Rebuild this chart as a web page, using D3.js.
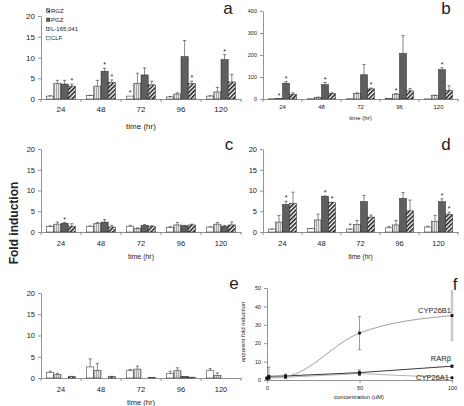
<!DOCTYPE html>
<html><head><meta charset="utf-8">
<script src="https://cdn.jsdelivr.net/npm/d3@7"></script>
<style>
body{margin:0;background:#fff}
svg{display:block}
text{font-family:"Liberation Sans",Arial,sans-serif;fill:#222}
</style>
</head><body>
<svg id="c" width="464" height="406"></svg>
<script>
// ---------- DATA ----------
const times = ["24", "48", "72", "96", "120"];
const seriesNames = ["CLF", "L-165,041", "PGZ", "RGZ"];
const legendOrder = ["RGZ", "PGZ", "L-165,041", "CLF"];

// rows: CLF, L-165,041, PGZ, RGZ ; columns: times
const aValues = [[0.7,0.8,0.7,0.5,0.7],[3.7,3.1,3.8,1.2,1.7],[3.6,6.7,5.8,10.2,9.5],[3.1,4.0,3.4,3.7,4.1]];
const aErrors = [[0.1,0.1,0,0.1,0.1],[0.8,1.4,2.4,0.3,1.1],[0.9,0.7,1.7,3.9,1.2],[0.5,0.6,0.9,0.6,1.8]];
const aStars = [[0,3],[1,2],[1,3],[2,0],[3,3],[4,2]];
const aTicks = [0,5,10,15,20];

const bValues = [[1,1,1,2,0.5],[3,8,25,22,15],[72,65,110,207,133],[22,25,46,37,40]];
const bErrors = [[0,0,0,0,0],[0,1,3,3,3],[8,10,47,81,9],[6,3,4,11,20]];
const bStars = [[0,1],[0,2],[1,2],[2,3],[3,1],[4,2]];
const bTicks = [0,100,200,300,400];

const cValues = [[1.3,1.4,1.4,1.1,1.2],[1.9,2.0,0.8,1.7,1.9],[2.1,2.4,1.6,1.5,1.4],[1.4,1.2,1.4,1.7,1.7]];
const cErrors = [[0.2,0.05,0.2,0.2,0.05],[0.5,0.3,0.2,0.6,0.4],[0.2,0.6,0.2,0.1,0.2],[0.6,0.4,0.1,0.2,0.7]];
const cStars = [[0,2]];

const dValues = [[0.7,0.8,0.7,1.0,1.2],[2.4,2.9,1.8,1.7,2.6],[6.6,8.6,7.3,8.1,7.3],[6.9,7.1,3.6,5.1,4.3]];
const dErrors = [[0.05,0.05,0.05,0.3,0.2],[1.6,1.4,1.0,1.1,1.4],[0.8,0.1,1.5,1.4,0.7],[2.7,0.1,0.5,2.6,0.5]];
const dStars = [[0,2],[1,2],[1,3],[2,0],[4,2],[4,3]];

const eValues = [[1.3,2.6,1.7,1.0,1.7],[0.8,1.8,2.1,1.7,0.6],[0,0,0,0.4,0],[0.3,0.3,0.15,0.2,0]];
const eErrors = [[0.3,1.9,0.3,0.6,0.5],[0.3,1.6,0.7,0.7,0.6],[0,0,0,0,0],[0.1,0.1,0,0,0]];
const eStars = [];

// panel f
const conc = [0, 1, 10, 50, 100];
const cyp26b1 = [1, 1.5, 2, 25.5, 35];
const cyp26b1Err = [0, 5.5, 1.2, 9, 14];
const rarb = [1, 2, 2.2, 4, 7.5];
const rarbErr = [0, 0.5, 0.6, 1.5, 0.6];
const cyp26a1 = [1, 1, 1.5, 3.5, 1.2];
const cyp26a1Err = [0, 0, 0.4, 1, 0];
const fYTicks = [0,10,20,30,40,50];
const fXTicks = [0,50,100];

// ---------- DRAW ----------
const INK = "#222";
const svg = d3.select("#c");
svg.append("rect").attr("width",464).attr("height",406).attr("fill","#fff");
const defs = svg.append("defs");
const pl = defs.append("pattern").attr("id","pL").attr("patternUnits","userSpaceOnUse").attr("width",2).attr("height",2);
pl.append("rect").attr("width",2).attr("height",2).attr("fill","#e4e4e4");
pl.append("rect").attr("width",1).attr("height",2).attr("fill","#a8a8a8");
const ph = defs.append("pattern").attr("id","pH").attr("patternUnits","userSpaceOnUse").attr("width",3).attr("height",3).attr("patternTransform","rotate(45)");
ph.append("rect").attr("width",3).attr("height",3).attr("fill","#fff");
ph.append("rect").attr("width",1.5).attr("height",3).attr("fill","#111");
const fills = {"CLF":"#fff","L-165,041":"url(#pL)","PGZ":"#5f5f5f","RGZ":"url(#pH)"};

function styleAxis(sel, fs){
  sel.selectAll("path.domain").attr("stroke","#777").attr("stroke-width",0.8);
  sel.selectAll(".tick line").attr("stroke","#777").attr("stroke-width",0.8);
  sel.selectAll("text").attr("font-size",fs).attr("fill",INK).style("font-family","'Liberation Sans',Arial,sans-serif");
}

function barPanel(cfg){
  const g = svg.append("g");
  const x = d3.scaleBand().domain(times).range([cfg.x0, cfg.x1]);
  const y = d3.scaleLinear().domain([0, cfg.max]).range([cfg.yb, cfg.yt]);
  const bw = cfg.bw;
  const ya = g.append("g").attr("transform",`translate(${cfg.x0},0)`)
    .call(d3.axisLeft(y).tickValues(cfg.ticks).tickSize(3).tickSizeOuter(0).tickPadding(cfg.ypad));
  styleAxis(ya, cfg.yfs);
  const xa = g.append("g").attr("transform",`translate(0,${cfg.yb})`)
    .call(d3.axisBottom(x).tickSize(0).tickSizeOuter(0).tickPadding(cfg.xpad));
  styleAxis(xa, cfg.xfs);
  const bounds = d3.range(times.length + 1).map(i => cfg.x0 + i * x.step());
  g.selectAll("line.bt").data(bounds).join("line").attr("class","bt")
    .attr("x1",d=>d).attr("x2",d=>d).attr("y1",cfg.yb).attr("y2",cfg.yb+3)
    .attr("stroke","#777").attr("stroke-width",0.8);
  const recs = [];
  cfg.vals.forEach((row, si) => row.forEach((v, gi) => recs.push({si, gi, v, e: cfg.errs[si][gi]})));
  const bx = d => x(times[d.gi]) + x.bandwidth()/2 - 2*bw + d.si*bw;
  g.selectAll("rect.bar").data(recs).join("rect").attr("class","bar")
    .attr("x", bx).attr("width", bw)
    .attr("y", d => y(d.v)).attr("height", d => Math.max(0, cfg.yb - y(d.v)))
    .attr("fill", d => fills[seriesNames[d.si]])
    .attr("stroke","#222").attr("stroke-width",0.5);
  const er = recs.filter(d => d.e > 0.04);
  g.selectAll("line.ev").data(er).join("line").attr("class","ev")
    .attr("x1", d => bx(d)+bw/2).attr("x2", d => bx(d)+bw/2)
    .attr("y1", d => y(d.v)).attr("y2", d => y(d.v+d.e))
    .attr("stroke","#333").attr("stroke-width",0.6);
  g.selectAll("line.ec").data(er).join("line").attr("class","ec")
    .attr("x1", d => bx(d)+bw/2-1.6).attr("x2", d => bx(d)+bw/2+1.6)
    .attr("y1", d => y(d.v+d.e)).attr("y2", d => y(d.v+d.e))
    .attr("stroke","#333").attr("stroke-width",0.6);
  g.selectAll("text.st").data(cfg.stars).join("text").attr("class","st")
    .attr("x", s => bx({gi:s[0], si:s[1]}) + bw/2)
    .attr("y", s => y(cfg.vals[s[1]][s[0]] + cfg.errs[s[1]][s[0]]) - 0.8)
    .attr("text-anchor","middle").attr("font-size",7).attr("fill",INK).text("*");
  g.append("text").attr("x",(cfg.x0+cfg.x1)/2).attr("y",cfg.titleY).attr("text-anchor","middle")
    .attr("font-size",cfg.tfs).attr("fill",INK).text("time (hr)");
  g.append("text").attr("x",cfg.lx).attr("y",cfg.ly).attr("text-anchor","middle")
    .attr("font-size",17).attr("fill","#111").text(cfg.letter);
  return {g, x, y};
}

barPanel({x0:41,x1:241,yb:99,yt:16,max:20,ticks:aTicks,bw:7.2,vals:aValues,errs:aErrors,stars:aStars,
  ypad:3,yfs:8,xpad:7,xfs:8,titleY:129,tfs:8,letter:"a",lx:228,ly:14});
barPanel({x0:263,x1:458,yb:99,yt:11,max:400,ticks:bTicks,bw:7,vals:bValues,errs:bErrors,stars:bStars,
  ypad:3,yfs:5.5,xpad:6,xfs:6,titleY:120,tfs:6,letter:"b",lx:446,ly:14});
barPanel({x0:41,x1:241,yb:232,yt:149,max:20,ticks:aTicks,bw:7.2,vals:cValues,errs:cErrors,stars:cStars,
  ypad:3,yfs:7.5,xpad:9,xfs:7.5,titleY:259,tfs:7,letter:"c",lx:229,ly:150});
barPanel({x0:263,x1:458,yb:232,yt:149,max:20,ticks:aTicks,bw:7,vals:dValues,errs:dErrors,stars:dStars,
  ypad:3,yfs:7.5,xpad:9,xfs:7.5,titleY:259,tfs:6.5,letter:"d",lx:446,ly:150});
barPanel({x0:41,x1:241,yb:378,yt:293,max:20,ticks:aTicks,bw:7.2,vals:eValues,errs:eErrors,stars:eStars,
  ypad:3,yfs:7.5,xpad:9,xfs:7.5,titleY:405,tfs:7.5,letter:"e",lx:234,ly:289});

// legend in panel a
const lg = svg.append("g");
lg.selectAll("rect").data(legendOrder).join("rect")
  .attr("x",46.5).attr("y",(d,i)=>8.8+i*9.2).attr("width",3.5).attr("height",3.5)
  .attr("fill",d=>fills[d]).attr("stroke","#222").attr("stroke-width",0.4);
lg.selectAll("text").data(legendOrder).join("text")
  .attr("x",51).attr("y",(d,i)=>12.6+i*9.2).attr("font-size",6).attr("fill",INK).text(d=>d);

// Fold induction label
svg.append("text").attr("transform","translate(18,223) rotate(-90)").attr("text-anchor","middle")
  .attr("font-size",12).attr("font-weight","bold").attr("fill","#111").text("Fold induction");

// ---------- panel f ----------
const fg = svg.append("g");
const fx = d3.scaleLinear().domain([0,100]).range([267,452]);
const fy = d3.scaleLinear().domain([0,50]).range([380,288]);
const fya = fg.append("g").attr("transform","translate(267,0)").call(d3.axisLeft(fy).tickValues(fYTicks).tickSize(3).tickSizeOuter(0).tickPadding(3));
styleAxis(fya, 5.5);
const fxa = fg.append("g").attr("transform","translate(0,380)").call(d3.axisBottom(fx).tickValues(fXTicks).tickSize(3).tickSizeOuter(0).tickPadding(3));
styleAxis(fxa, 5.5);
fg.append("text").attr("x",359).attr("y",399).attr("text-anchor","middle").attr("font-size",6).attr("fill",INK).text("concentration (uM)");
fg.append("text").attr("transform","translate(245,332) rotate(-90)").attr("text-anchor","middle").attr("font-size",6).attr("fill",INK).text("apparent fold induction");
fg.append("text").attr("x",455).attr("y",290).attr("text-anchor","middle").attr("font-size",17).attr("fill","#111").text("f");

function fSeries(vals, errs, color, curve, lw, errColorLast){
  const pts = conc.map((c,i)=>({c, v: vals[i], e: errs[i], i}));
  fg.append("path").datum(pts).attr("fill","none").attr("stroke",color).attr("stroke-width",lw)
    .attr("d", d3.line().x(d=>fx(d.c)).y(d=>fy(d.v)).curve(curve));
  const isLast = d => errColorLast && d.i===pts.length-1;
  const eb = pts.filter(d=>d.e>0.3);
  fg.selectAll(null).data(eb).join("line")
    .attr("x1",d=>fx(d.c)).attr("x2",d=>fx(d.c)).attr("y1",d=>fy(Math.max(0,d.v-d.e))).attr("y2",d=>fy(d.v+d.e))
    .attr("stroke",d=> isLast(d) ? "#c8c8c8" : "#555")
    .attr("stroke-width",d=> isLast(d) ? 2.5 : 0.6);
  fg.selectAll(null).data(eb.filter(d=>!isLast(d))).join("g")
    .each(function(d){
      const s = d3.select(this);
      [d.v+d.e, Math.max(0,d.v-d.e)].forEach(yy=>s.append("line").attr("x1",fx(d.c)-1.5).attr("x2",fx(d.c)+1.5)
        .attr("y1",fy(yy)).attr("y2",fy(yy)).attr("stroke","#555").attr("stroke-width",0.6));
    });
  fg.selectAll(null).data(pts).join("rect")
    .attr("x",d=>fx(d.c)-1.4).attr("y",d=>fy(d.v)-1.4).attr("width",2.8).attr("height",2.8).attr("fill","#111");
}
fSeries(cyp26a1, cyp26a1Err, "#aaaaaa", d3.curveLinear, 0.9, false);
fSeries(rarb, rarbErr, "#222", d3.curveLinear, 0.9, false);
fSeries(cyp26b1, cyp26b1Err, "#888", d3.curveMonotoneX, 0.8, true);
fg.append("text").attr("x",451).attr("y",313).attr("text-anchor","end").attr("font-size",7.5).attr("fill",INK).text("CYP26B1");
fg.append("text").attr("x",451).attr("y",361).attr("text-anchor","end").attr("font-size",7.5).attr("fill",INK).text("RARβ");
fg.append("text").attr("x",449).attr("y",380).attr("text-anchor","end").attr("font-size",7.5).attr("fill",INK).text("CYP26A1");
</script>
</body></html>
